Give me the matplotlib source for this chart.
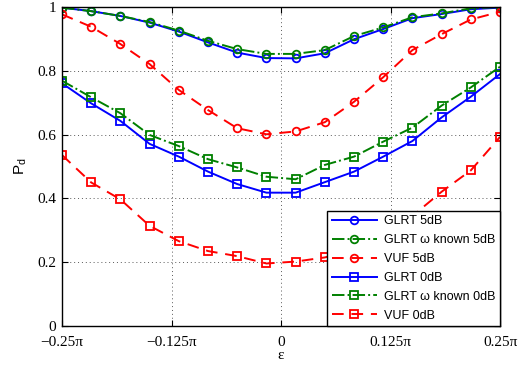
import numpy as np
import matplotlib
matplotlib.use("Agg")
import matplotlib.pyplot as plt

# epsilon in units of pi, 16 points
eps = np.linspace(-0.25, 0.25, 16)

glrt_5 = [0.998, 0.987, 0.972, 0.951, 0.923, 0.889, 0.857, 0.840,
          0.839, 0.855, 0.899, 0.931, 0.965, 0.978, 0.993, 0.998]
glrtw_5 = [0.998, 0.987, 0.972, 0.953, 0.926, 0.894, 0.868, 0.853,
           0.853, 0.865, 0.909, 0.936, 0.968, 0.980, 0.996, 1.000]
vuf_5 = [0.977, 0.938, 0.884, 0.821, 0.740, 0.677, 0.620, 0.601,
         0.610, 0.639, 0.703, 0.780, 0.865, 0.915, 0.961, 0.985]
glrt_0 = [0.761, 0.698, 0.643, 0.571, 0.531, 0.484, 0.445, 0.418,
          0.418, 0.451, 0.484, 0.531, 0.580, 0.654, 0.719, 0.790]
glrtw_0 = [0.769, 0.717, 0.667, 0.599, 0.564, 0.523, 0.497, 0.468,
           0.460, 0.505, 0.531, 0.578, 0.622, 0.691, 0.748, 0.813]
vuf_0 = [0.536, 0.450, 0.397, 0.314, 0.266, 0.235, 0.219, 0.196,
         0.202, 0.215, 0.240, 0.285, 0.345, 0.421, 0.488, 0.593]

xticks = [-0.25, -0.125, 0, 0.125, 0.25]
xticklabels = ["\u22120.25\u03c0", "\u22120.125\u03c0", "0", "0.125\u03c0", "0.25\u03c0"]

fig = plt.figure(figsize=(5.32, 3.69), dpi=100)
ax = fig.add_axes([0.1165, 0.1165, 0.8235, 0.8645])

mk = dict(markersize=5.5, markerfacecolor="none", markeredgewidth=1.3, linewidth=1.4)
ax.plot(eps, glrt_5, "-", color="#0000ff", marker="o", label="GLRT 5dB", **mk)
ax.plot(eps, glrtw_5, "-.", color="#008000", marker="o", label="GLRT \u03c9 known 5dB", **mk)
ax.plot(eps, vuf_5, "--", color="#ff0000", marker="o", label="VUF 5dB", dashes=(6, 4), **mk)
ax.plot(eps, glrt_0, "-", color="#0000ff", marker="s", label="GLRT 0dB", **mk)
ax.plot(eps, glrtw_0, "-.", color="#008000", marker="s", label="GLRT \u03c9 known 0dB", **mk)
ax.plot(eps, vuf_0, "--", color="#ff0000", marker="s", label="VUF 0dB", dashes=(6, 4), **mk)

ax.set_xlim(-0.25, 0.25)
ax.set_ylim(0, 1)
ax.set_xticks(xticks)
ax.set_xticklabels(xticklabels, fontfamily="Liberation Serif", fontsize=11)
ax.set_yticks([0, 0.2, 0.4, 0.6, 0.8, 1])
ax.set_yticklabels(["0", "0.2", "0.4", "0.6", "0.8", "1"], fontfamily="Liberation Serif", fontsize=11)
ax.tick_params(direction="in", top=True, right=True, length=4, width=0.8)
ax.tick_params(axis="x", pad=7)
ax.tick_params(axis="y", pad=4)
ax.grid(True, linestyle=(0, (1, 3)), color="0.35", linewidth=0.7)
for s in ax.spines.values():
    s.set_linewidth(1.0)

ax.set_xlabel("\u03b5", fontfamily="Liberation Serif", fontsize=11, labelpad=0)
ax.set_ylabel(r"P$_\mathregular{d}$", fontfamily="Liberation Sans", fontsize=11, labelpad=6)

leg = ax.legend(loc="lower right", borderaxespad=0, fancybox=False, edgecolor="k",
                framealpha=1, prop={"family": "Liberation Sans", "size": 9},
                handlelength=3.6, labelspacing=0.55, borderpad=0.35, handletextpad=0.6)
leg.get_frame().set_linewidth(1.0)

fig.savefig("out.png", dpi=100)
